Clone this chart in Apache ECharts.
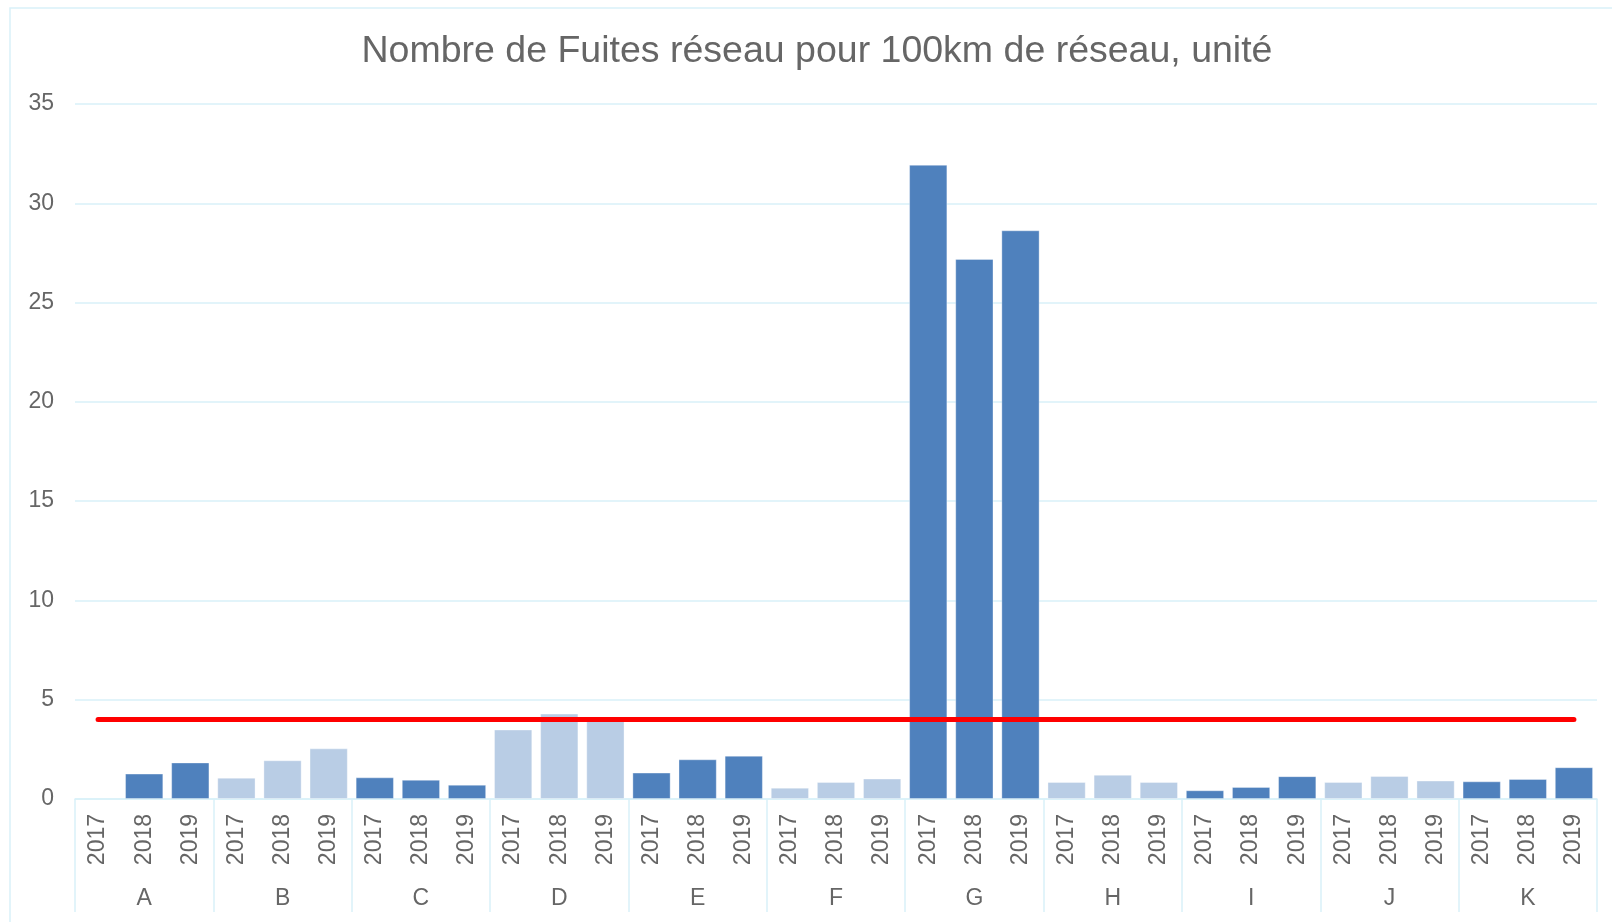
<!DOCTYPE html>
<html lang="fr">
<head>
  <meta charset="UTF-8">
  <title>Nombre de Fuites réseau pour 100km de réseau</title>
  <script src="https://cdn.jsdelivr.net/npm/echarts@6/dist/echarts.min.js"></script>
  <style>
    body { margin: 0; background: #fff; }
    #main { width: 1612px; height: 922px; }
  </style>
</head>
<body>
<div id="main"></div>
<script>
  // données
  var groupes = ['A', 'B', 'C', 'D', 'E', 'F', 'G', 'H', 'I', 'J', 'K'];
  var annees = ['2017', '2018', '2019'];
  var fuites = [
    null, 1.28, 1.84,   // A
    1.07, 1.95, 2.55,   // B
    1.09, 0.97, 0.72,   // C
    3.5, 4.3, 3.98,     // D
    1.33, 2.0, 2.18,    // E
    0.57, 0.86, 1.03,   // F
    31.94, 27.2, 28.64, // G
    0.86, 1.22, 0.86,   // H
    0.44, 0.61, 1.15,   // I
    0.86, 1.16, 0.93,   // J
    0.89, 1.01, 1.6     // K
  ];
  var seuil = [4, 4, 4, 4, 4, 4, 4, 4, 4, 4, 4, 4, 4, 4, 4, 4, 4, 4, 4, 4, 4, 4, 4, 4, 4, 4, 4, 4, 4, 4, 4, 4, 4];
  var graduationsY = [0, 35, 5]; // min, max, pas

  var foncé = '#4f81bd';
  var clair = '#b9cde5';
  var cyan = '#d9f1f9';
  var gris = '#666666';
  var police = "'Liberation Sans', Arial, sans-serif";

  // une catégorie par année, pour chaque groupe
  var categories = [];
  groupes.forEach(function (g) {
    annees.forEach(function (a) { categories.push(a); });
  });

  // couleur alternée par groupe (A foncé, B clair, ...)
  var barres = fuites.map(function (v, i) {
    var g = Math.floor(i / annees.length);
    return { value: v, itemStyle: { color: g % 2 === 0 ? foncé : clair } };
  });

  var myChart = echarts.init(document.getElementById('main'));
  myChart.setOption({
    animation: false,
    title: {
      text: 'Nombre de Fuites réseau pour 100km de réseau, unité',
      left: 817,
      textAlign: 'center',
      top: 33,
      padding: 0,
      textStyle: { fontFamily: police, fontSize: 37.5, fontWeight: 'normal', color: gris }
    },
    graphic: [{
      type: 'rect',
      z: -10,
      shape: { x: 10, y: 8, width: 1700, height: 1000 },
      style: { fill: 'none', stroke: cyan, lineWidth: 1.5 }
    }],
    grid: { left: 75, right: 15, top: 104, bottom: 123 },
    xAxis: [
      {
        type: 'category',
        data: categories,
        position: 'bottom',
        axisLine: { lineStyle: { color: cyan, width: 1.5 } },
        axisTick: { show: false },
        axisLabel: {
          rotate: 90,
          interval: 0,
          margin: 15,
          fontFamily: police,
          fontSize: 23,
          color: gris
        }
      },
      {
        type: 'category',
        data: groupes,
        position: 'bottom',
        axisLine: { show: false },
        axisTick: { show: true, interval: 0, length: 113, lineStyle: { color: cyan, width: 1.5 } },
        axisLabel: {
          interval: 0,
          margin: 88,
          fontFamily: police,
          fontSize: 23,
          color: gris
        }
      }
    ],
    yAxis: {
      type: 'value',
      min: graduationsY[0],
      max: graduationsY[1],
      interval: graduationsY[2],
      axisLine: { show: false },
      axisTick: { show: false },
      splitLine: { lineStyle: { color: cyan, width: 1.5 } },
      axisLabel: { margin: 21, fontFamily: police, fontSize: 23, color: gris }
    },
    series: [
      {
        name: 'Fuites',
        type: 'bar',
        xAxisIndex: 0,
        barCategoryGap: '17%',
        data: barres,
        itemStyle: { borderColor: 'rgba(255,255,255,0.35)', borderWidth: 1 }
      },
      {
        name: 'Seuil',
        type: 'line',
        xAxisIndex: 0,
        data: seuil,
        symbol: 'none',
        z: 5,
        lineStyle: { color: '#ff0000', width: 5, cap: 'round' }
      }
    ]
  });
</script>
</body>
</html>
